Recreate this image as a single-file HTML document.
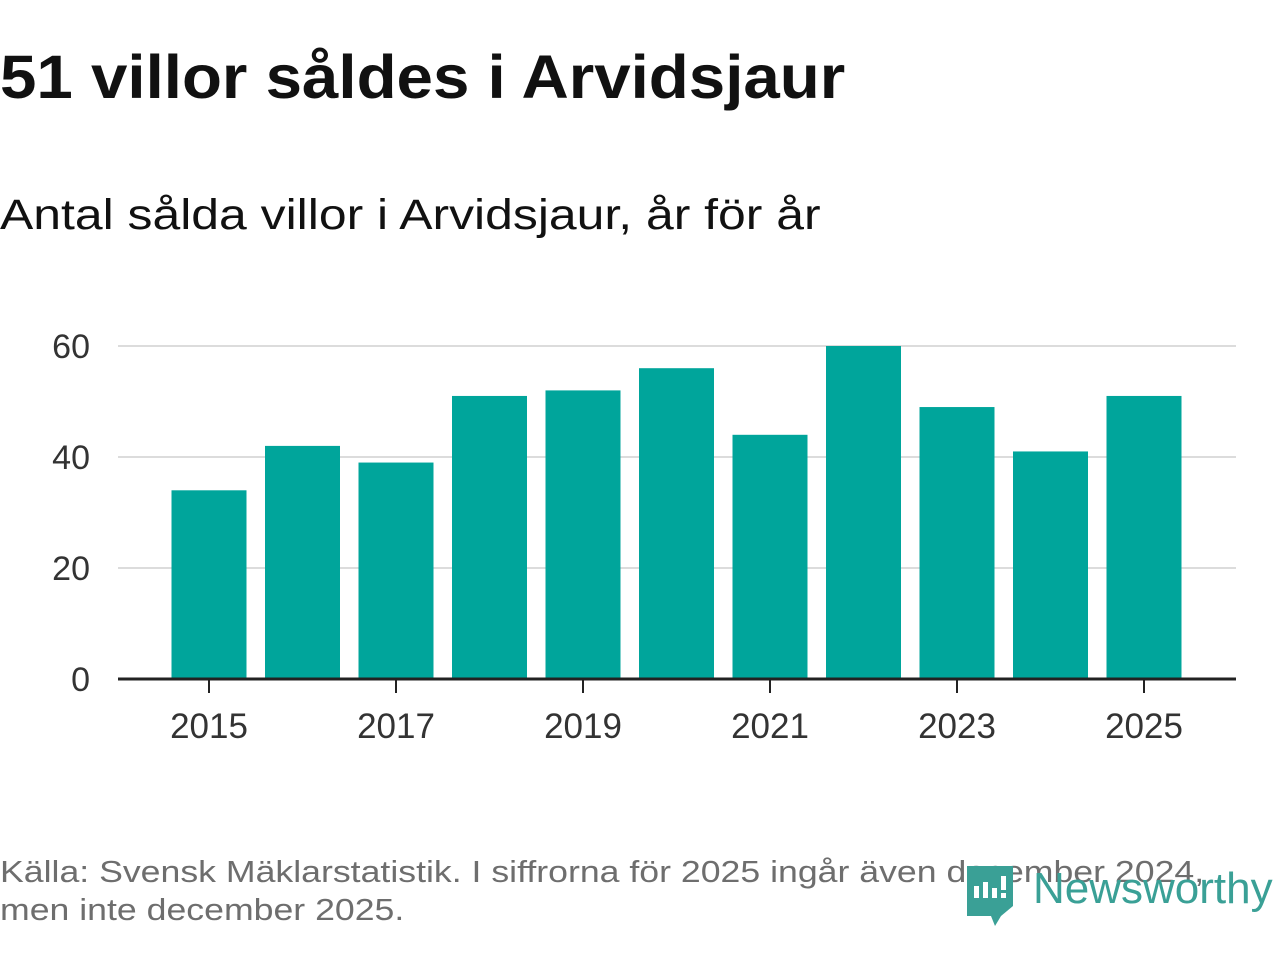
<!DOCTYPE html>
<html><head><meta charset="utf-8"><style>
body{margin:0;width:1280px;height:960px;background:#fff;font-family:"Liberation Sans","DejaVu Sans",sans-serif;overflow:hidden;position:relative}
.t{position:absolute;left:0;white-space:nowrap;transform-origin:0 0}
</style></head><body>
<div class="t" style="top:42px;font-size:61px;font-weight:bold;color:#111;transform:scaleX(1.073)">51 villor såldes i Arvidsjaur</div>
<div class="t" style="top:191px;font-size:43px;color:#111;transform:scaleX(1.16)">Antal sålda villor i Arvidsjaur, år för år</div>
<svg id="chart" width="1280" height="960" style="position:absolute;left:0;top:0"></svg>
<div class="t" style="top:853px;font-size:31px;color:#6e6e6e;line-height:38px;transform:scaleX(1.15)">Källa: Svensk Mäklarstatistik. I siffrorna för 2025 ingår även december 2024,<br>men inte december 2025.</div>
<div style="position:absolute;left:965px;top:864px;width:315px;height:64px">
<svg width="60" height="64" style="position:absolute;left:0;top:0"><path d="M2 2h46v40l-12 10-6 10-4-10H2z" fill="#3aa096"/><rect x="9" y="22" width="5" height="12" fill="#fff"/><rect x="18" y="18" width="5" height="16" fill="#fff"/><rect x="27" y="24" width="5" height="10" fill="#fff"/><rect x="36" y="12" width="5" height="14" fill="#fff"/><rect x="36" y="29" width="5" height="5" fill="#fff"/></svg>
<div style="position:absolute;left:68px;top:0px;font-size:44px;color:#3aa096">Newsworthy</div>
</div>
<script>
const years=[2015,2016,2017,2018,2019,2020,2021,2022,2023,2024,2025];
const values=[34,42,39,51,52,56,44,60,49,41,51];
const yTicks=[0,20,40,60];
const xTickLabels=[2015,2017,2019,2021,2023,2025];
const svg=document.getElementById('chart');
const NS='http://www.w3.org/2000/svg';
const x0=118,x1=1236,y0=679,y60=346;
const yS=v=>y0-(y0-y60)*v/60;
const step=93.5,bw=75;
const xS=yr=>209+(yr-2015)*step;
function mk(t,a){const e=document.createElementNS(NS,t);for(const k in a)e.setAttribute(k,a[k]);svg.appendChild(e);return e;}
yTicks.forEach(v=>{
 if(v>0){const l=mk('line',{x1:x0,x2:x1,y1:yS(v),y2:yS(v),stroke:'#dcdcdc','stroke-width':2});
 
 }
 const t=mk('text',{x:90,y:yS(v)+12,'text-anchor':'end','font-size':34,fill:'#333','font-family':'Liberation Sans, sans-serif'});
 t.textContent=v;
 
 
});
years.forEach((yr,i)=>{
 const r=mk('rect',{x:xS(yr)-bw/2,y:yS(values[i]),width:bw,height:y0-yS(values[i]),fill:'#00a59b'});
 
 
});
const ax=mk('line',{x1:x0,x2:x1,y1:y0,y2:y0,stroke:'#222','stroke-width':3});


xTickLabels.forEach(yr=>{
 const tk=mk('line',{x1:xS(yr),x2:xS(yr),y1:y0,y2:y0+14,stroke:'#222','stroke-width':2});
 
 
 const t=mk('text',{x:xS(yr),y:738,'text-anchor':'middle','font-size':35,fill:'#333','font-family':'Liberation Sans, sans-serif'});
 t.textContent=yr;
 
 
});
</script>
</body></html>
